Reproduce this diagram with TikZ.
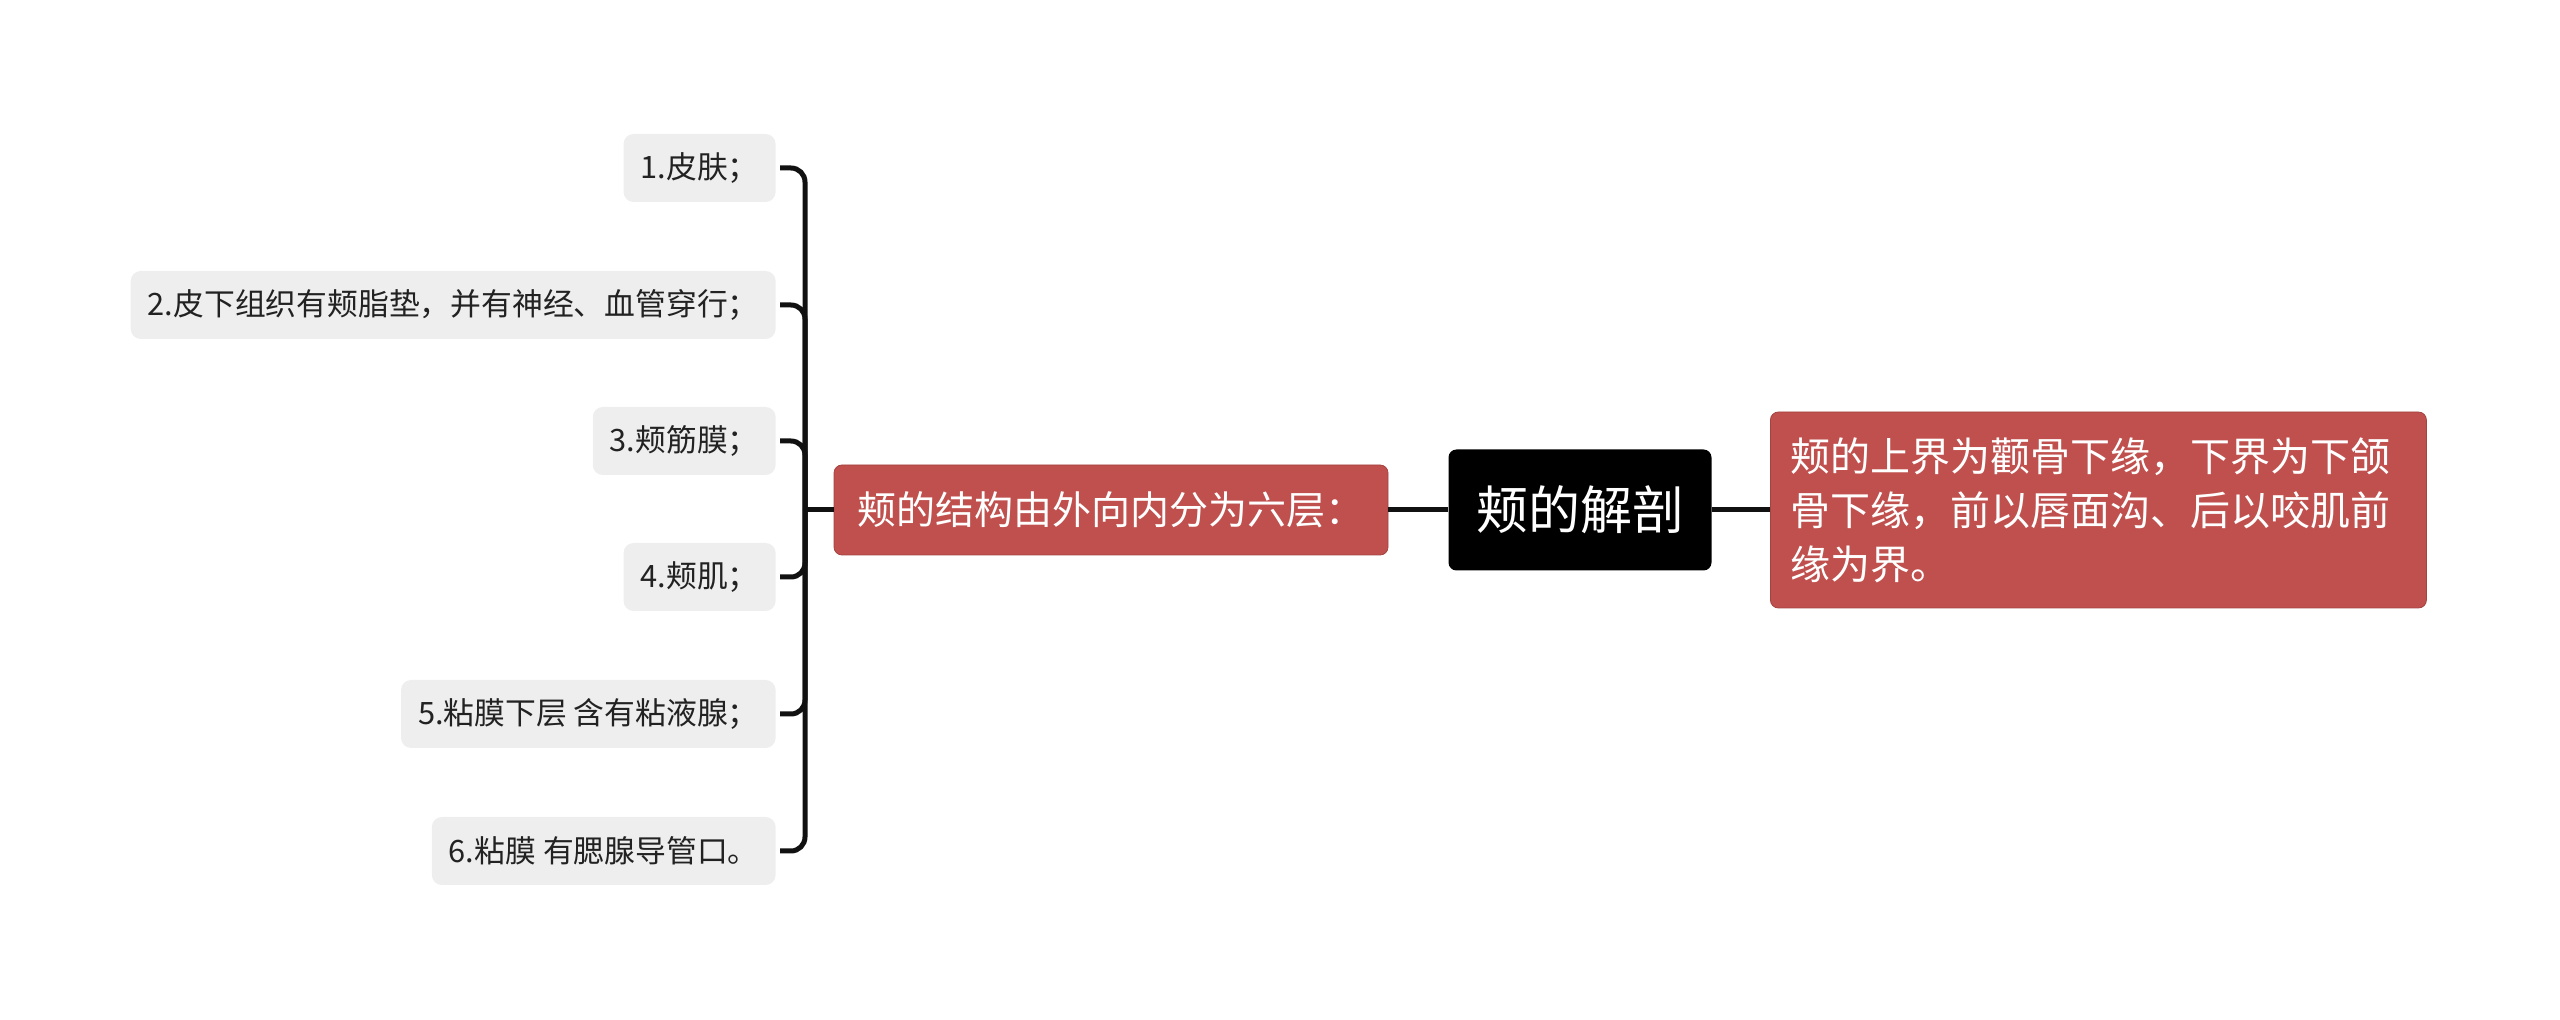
\documentclass[tikz,border=0pt]{standalone}
\usepackage{fontspec}
\setmainfont{Noto Sans CJK SC}
\usetikzlibrary{calc}
\definecolor{redbox}{HTML}{C0504D}
\definecolor{leafgray}{HTML}{EEEEEE}
\definecolor{linec}{HTML}{111111}
\definecolor{leaftext}{HTML}{222222}
\begin{document}
\begin{tikzpicture}[x=1pt,y=1pt,
  leaf/.style={fill=leafgray, rounded corners=5pt, minimum height=34pt, inner xsep=8.5pt, inner ysep=0pt, anchor=east, text=leaftext, font=\fontsize{15.4pt}{18pt}\selectfont},
  rootbox/.style={fill=black, rounded corners=4pt, minimum width=131.5pt, minimum height=60.5pt, inner sep=0pt, text=white, font=\fontsize{26pt}{30pt}\selectfont},
  midbox/.style={fill=redbox, draw=redbox!85!black, line width=0.4pt, rounded corners=4pt, minimum width=277pt, minimum height=45pt, inner sep=0pt, text=white, font=\fontsize{19.5pt}{23pt}\selectfont},
  rightbox/.style={fill=redbox, draw=redbox!85!black, line width=0.4pt, rounded corners=4pt, text width=308pt, align=left, inner xsep=10pt, minimum height=98pt, text=white, font=\fontsize{20pt}{27pt}\selectfont},
  conn/.style={draw=linec, line width=2.5pt}
]
\useasboundingbox (0,0) rectangle (1280,-510);

\node[rootbox] (root) at (790,-255) {颊的解剖};
\node[rightbox, anchor=west] (right) at (885,-255) {颊的上界为颧骨下缘，下界为下颌\\骨下缘，前以唇面沟、后以咬肌前\\缘为界。};
\node[midbox] (mid) at (555.5,-255) {颊的结构由外向内分为六层：};

\node[leaf] (l1) at (388,-84) {1.皮肤；};
\node[leaf] (l2) at (388,-152.5) {2.皮下组织有颊脂垫，并有神经、血管穿行；};
\node[leaf] (l3) at (388,-220.5) {3.颊筋膜；};
\node[leaf] (l4) at (388,-288.5) {4.颊肌；};
\node[leaf] (l5) at (388,-357) {5.粘膜下层 含有粘液腺；};
\node[leaf] (l6) at (388,-425.5) {6.粘膜 有腮腺导管口。};

\coordinate (bx) at (402.5,-255);

\draw[conn] (root.west) -- (mid.east);
\draw[conn] (root.east) -- (right.west);
\draw[conn] (mid.west) -- (bx);
\foreach \n in {l1,l2,l3,l4,l5,l6}{
  \draw[conn, rounded corners=7pt] ($(\n.east)+(2,0)$) -| (bx);
}
\end{tikzpicture}
\end{document}
